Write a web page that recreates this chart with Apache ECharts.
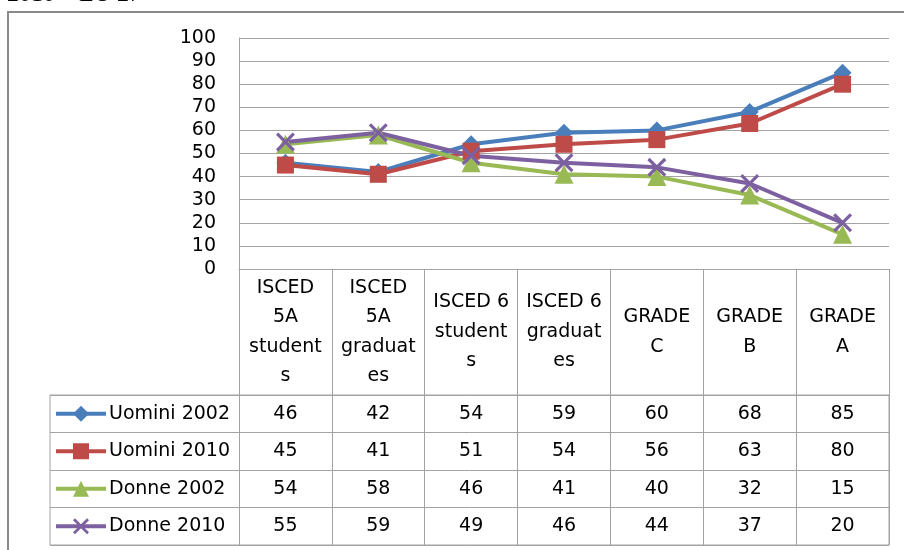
<!DOCTYPE html>
<html><head><meta charset="utf-8">
<script src="https://cdn.jsdelivr.net/npm/echarts@6/dist/echarts.min.js"></script>
<style>html,body{margin:0;padding:0;background:#fff}#c{width:904px;height:550px}</style>
</head><body><div id="c"></div>
<script>
// ---- data ----
const categories = ['ISCED 5A students', 'ISCED 5A graduates', 'ISCED 6 students', 'ISCED 6 graduates', 'GRADE C', 'GRADE B', 'GRADE A'];
const headerLabels = ['ISCED\n5A\nstudent\ns', 'ISCED\n5A\ngraduat\nes', 'ISCED 6\nstudent\ns', 'ISCED 6\ngraduat\nes', 'GRADE\nC', 'GRADE\nB', 'GRADE\nA'];
const seriesNames = ['Uomini 2002', 'Uomini 2010', 'Donne 2002', 'Donne 2010'];
const uomini2002 = [46, 42, 54, 59, 60, 68, 85];
const uomini2010 = [45, 41, 51, 54, 56, 63, 80];
const donne2002 = [54, 58, 46, 41, 40, 32, 15];
const donne2010 = [55, 59, 49, 46, 44, 37, 20];
const yMin = 0, yMax = 100, yInterval = 10;
const titleText = '2010 \u2013 EU 27';

// ---- styling / layout ----
const values = [uomini2002, uomini2010, donne2002, donne2010];
const colors = ['#4A7EBB', '#BE4B48', '#98B954', '#7D60A0'];
const xPath = 'path://M0,1.2L1.2,0L5,3.8L8.8,0L10,1.2L6.2,5L10,8.8L8.8,10L5,6.2L1.2,10L0,8.8L3.8,5Z';
const symbols = ['diamond', 'rect', 'triangle', xPath];
const symbolSizes = [18, 17, 19, 19];
const FONT = 'DejaVu Sans';
const gridLine = '#a3a3a3';
const plotLeft = 239, plotRight = 889, plotTop = 38, axisY = 269;
const rowBounds = [395, 432.5, 470, 507.5, 545];
const rowCenters = rowBounds.slice(0, 4).map((b, i) => (b + rowBounds[i + 1]) / 2);
const legendIconH = 20;

const xAxes = [{
  type: 'category', gridIndex: 0, data: categories, position: 'bottom', boundaryGap: true,
  axisLine: { show: true, lineStyle: { color: gridLine, width: 1 } },
  axisTick: { show: true, length: rowBounds[4] - axisY, interval: 0, lineStyle: { color: gridLine, width: 1 } },
  axisLabel: {
    interval: 0, margin: (axisY + rowBounds[0]) / 2 - axisY, verticalAlign: 'middle', align: 'center',
    fontFamily: FONT, fontSize: 19, lineHeight: 29.5, color: '#000',
    formatter: (v, i) => headerLabels[i]
  },
  splitLine: { show: false }
}];
values.forEach((vals, r) => {
  xAxes.push({
    type: 'category', gridIndex: 0, data: categories, position: 'bottom', boundaryGap: true,
    axisLine: { show: false }, axisTick: { show: false }, splitLine: { show: false },
    axisLabel: {
      interval: 0, margin: rowCenters[r] - axisY, verticalAlign: 'middle', align: 'center',
      fontFamily: FONT, fontSize: 19, color: '#000',
      formatter: (v, i) => String(vals[i])
    }
  });
});
xAxes.push({ type: 'value', gridIndex: 1, show: false, min: 0, max: 1 });

const option = {
  animation: false,
  backgroundColor: '#fff',
  title: {
    text: titleText, left: 7, top: -17, padding: 0,
    textStyle: { fontFamily: 'Liberation Serif', fontSize: 24, fontWeight: 'normal', color: '#000' }
  },
  graphic: [{
    type: 'rect', x: 8, y: 12, silent: true,
    shape: { x: 0, y: 0, width: 1000, height: 1000 },
    style: { fill: 'none', stroke: '#8a8a8a', lineWidth: 2 }
  }],
  grid: [
    { left: plotLeft, right: 904 - plotRight, top: plotTop, bottom: 550 - axisY, containLabel: false },
    { left: 50, right: 904 - plotRight, top: rowBounds[0], bottom: 550 - rowBounds[4], show: true,
      borderColor: gridLine, borderWidth: 1, backgroundColor: 'transparent' }
  ],
  xAxis: xAxes,
  yAxis: [
    {
      type: 'value', gridIndex: 0, min: yMin, max: yMax, interval: yInterval,
      axisLine: { show: true, lineStyle: { color: gridLine, width: 1 } },
      axisTick: { show: false },
      splitLine: { show: true, lineStyle: { color: gridLine, width: 1 } },
      axisLabel: { margin: 23, fontFamily: FONT, fontSize: 19, color: '#000' }
    },
    {
      type: 'category', gridIndex: 1, data: seriesNames, inverse: true, boundaryGap: true,
      axisLine: { show: false }, axisTick: { show: false }, axisLabel: { show: false },
      splitLine: { show: true, interval: 0, lineStyle: { color: gridLine, width: 1 } }
    }
  ],
  legend: seriesNames.map((n, i) => ({
    data: [n], left: 54, top: rowCenters[i] - legendIconH / 2, padding: 0, orient: 'horizontal',
    itemWidth: 50, itemHeight: legendIconH, itemGap: 0, selectedMode: false,
    lineStyle: { width: 4 },
    textStyle: { fontFamily: FONT, fontSize: 19, color: '#000', lineHeight: legendIconH, padding: [0, 0, 0, -2] }
  })),
  series: values.map((vals, i) => ({
    name: seriesNames[i], type: 'line', xAxisIndex: 0, yAxisIndex: 0, data: vals,
    symbol: symbols[i], symbolSize: symbolSizes[i], showSymbol: true,
    lineStyle: { color: colors[i], width: 4 },
    itemStyle: { color: colors[i] },
    emphasis: { disabled: true }
  }))
};
const chart = echarts.init(document.getElementById('c'), null, { renderer: 'canvas' });
chart.setOption(option);
</script>
</body></html>
